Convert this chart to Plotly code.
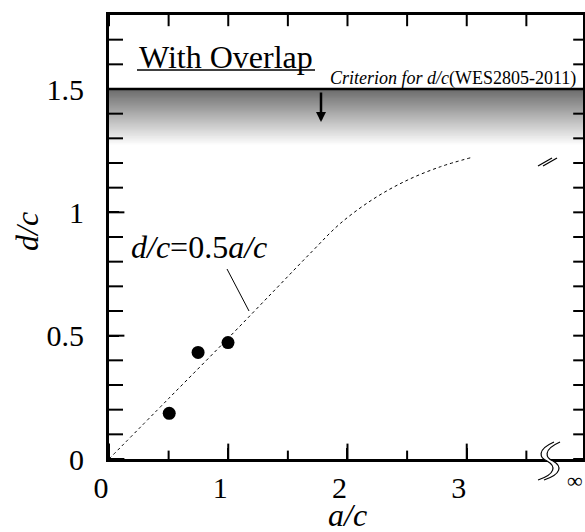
import plotly.graph_objects as go

# ---------------- data ----------------
points_ac = [0.505, 0.747, 0.998]
points_dc = [0.185, 0.432, 0.472]

curve_ac = [0.0, 0.5, 1.0, 1.4, 1.7, 1.94, 2.22, 2.50, 2.78, 3.03]
curve_dc = [0.0, 0.245, 0.49, 0.69, 0.84, 0.955, 1.055, 1.13, 1.185, 1.221]

x_tick_vals = [0, 1, 2, 3]
x_tick_text = ["0", "1", "2", "3"]
x_minor_vals = [0.5, 1.5, 2.5, 3.5]
y_tick_vals = [0, 0.5, 1, 1.5]
y_tick_text = ["0", "0.5", "1", "1.5"]
y_minor_vals = [0.1, 0.2, 0.3, 0.4, 0.6, 0.7, 0.8, 0.9, 1.1, 1.2, 1.3, 1.4, 1.6, 1.7]

criterion_dc = 1.5
x_range = [0, 3.975]
y_range = [0, 1.8]

# ---------------- layout geometry ----------------
W, H = 585, 532
L, R, T, B = 109, 2, 15, 73
PW, PH = W - L - R, H - T - B
FONT = "Liberation Serif"


def px(xp):
    return (xp - L) / PW


def py(yp):
    return (T + PH - yp) / PH


fig = go.Figure()

fig.add_trace(go.Scatter(
    x=curve_ac, y=curve_dc, mode="lines",
    line=dict(color="black", width=1, dash="3px,3px", shape="spline"),
    hoverinfo="skip", showlegend=False,
))
fig.add_trace(go.Scatter(
    x=points_ac, y=points_dc, mode="markers",
    marker=dict(color="black", size=13),
    showlegend=False,
))


# inside tick marks (clipped to the plot area so only the inner half shows)
def tick_trace(xs, ys, symbol, size):
    return go.Scatter(x=xs, y=ys, mode="markers", cliponaxis=True,
                      marker=dict(symbol=symbol, size=size, color="black",
                                  line=dict(width=2, color="black")),
                      hoverinfo="skip", showlegend=False)


for yv in y_range:
    fig.add_trace(tick_trace(x_tick_vals, [yv] * len(x_tick_vals), "line-ns", 22 if yv == y_range[0] else 16))
    fig.add_trace(tick_trace(x_minor_vals, [yv] * len(x_minor_vals), "line-ns", 12 if yv == y_range[0] else 16))
for xv in x_range:
    fig.add_trace(tick_trace([xv] * len(y_tick_vals), y_tick_vals, "line-ew", 22 if xv == x_range[0] else 14))
    fig.add_trace(tick_trace([xv] * len(y_minor_vals), y_minor_vals, "line-ew", 20 if xv == x_range[0] else 14))

shapes = []
# gradient band below the criterion line (stacked rectangles, light to dark)
g_bottom = 1.27
n_steps = 70
for i in range(n_steps):
    f = i / n_steps
    y0 = g_bottom + (criterion_dc - g_bottom) * f
    lvl = int(round(255 - (255 - 0x6a) * f))
    shapes.append(dict(type="rect", xref="paper", x0=0, x1=1, yref="y",
                       y0=y0, y1=criterion_dc, fillcolor=f"rgb({lvl},{lvl},{lvl})",
                       line=dict(width=0), layer="below"))
# criterion line
shapes.append(dict(type="line", xref="paper", x0=0, x1=1, yref="y",
                   y0=criterion_dc, y1=criterion_dc,
                   line=dict(color="black", width=2.5), layer="above"))
# underline of "With Overlap"
shapes.append(dict(type="line", xref="paper", yref="paper",
                   x0=px(137), x1=px(315), y0=py(70), y1=py(70),
                   line=dict(color="black", width=1.5)))
# leader line for label
shapes.append(dict(type="line", xref="paper", yref="paper",
                   x0=px(227), y0=py(269), x1=px(249), y1=py(311),
                   line=dict(color="black", width=1)))
# break marks on curve
for dx in (0, 5):
    shapes.append(dict(type="line", xref="paper", yref="paper",
                       x0=px(538 + dx), y0=py(166), x1=px(552 + dx), y1=py(158),
                       line=dict(color="black", width=1.2)))


def pth(pts):
    out = []
    for cmd, coords in pts:
        if coords:
            out.append(cmd + " " + " ".join(f"{px(a):.4f},{py(b):.4f}" for a, b in coords))
        else:
            out.append(cmd)
    return " ".join(out)


s1 = [(554, 442), (536, 450), (540, 458), (547, 461), (556, 466), (556, 474), (538, 480)]
s2 = [(a + 6, b) for a, b in s1]
mask = pth([("M", [s1[0]]), ("C", s1[1:4]), ("C", s1[4:7]), ("L", [s2[6]]),
            ("C", [s2[5], s2[4], s2[3]]), ("C", [s2[2], s2[1], s2[0]]), ("Z", [])])
shapes.append(dict(type="path", xref="paper", yref="paper", path=mask,
                   fillcolor="white", line=dict(width=0), layer="above"))
for s in (s1, s2):
    shapes.append(dict(type="path", xref="paper", yref="paper",
                       path=pth([("M", [s[0]]), ("C", s[1:4]), ("C", s[4:7])]),
                       line=dict(color="black", width=1.2), layer="above"))

annotations = [
    dict(text="With Overlap", xref="paper", yref="paper", x=px(226), y=py(57),
         showarrow=False, font=dict(family=FONT, size=32, color="black"),
         xanchor="center", yanchor="middle"),
    dict(text="<i>Criterion for d/c</i>(WES2805-2011)", xref="paper", yref="paper",
         x=px(578), y=py(78), showarrow=False,
         font=dict(family=FONT, size=18, color="black"),
         xanchor="right", yanchor="middle"),
    dict(text="<i>d/c</i>=0.5<i>a/c</i>", xref="paper", yref="paper",
         x=px(199), y=py(247), showarrow=False,
         font=dict(family=FONT, size=32, color="black"),
         xanchor="center", yanchor="middle"),
    dict(text="", x=px(321), y=py(122), xref="paper", yref="paper",
         ax=0, ay=-31, axref="pixel", ayref="pixel",
         showarrow=True, arrowhead=2, arrowsize=0.8, arrowwidth=2.5, arrowcolor="black"),
    dict(text="∞", xref="paper", yref="paper", x=px(575), y=py(480), showarrow=False,
         font=dict(family=FONT, size=22, color="black"),
         xanchor="center", yanchor="middle"),
    dict(text="<i>a/c</i>", xref="paper", yref="paper", x=px(347), y=py(515),
         showarrow=False, font=dict(family=FONT, size=32, color="black"),
         xanchor="center", yanchor="middle"),
    dict(text="<i>d/c</i>", xref="paper", yref="paper", x=px(27), y=py(232),
         showarrow=False, textangle=-90, font=dict(family=FONT, size=32, color="black"),
         xanchor="center", yanchor="middle"),
]

xaxis = dict(range=x_range, tickmode="array", tickvals=x_tick_vals, ticktext=x_tick_text,
             showline=True, linecolor="black", linewidth=3, mirror=True,
             ticks="inside", ticklen=11, tickwidth=2, tickcolor="black",
             showgrid=False, zeroline=False, ticklabelshift=-8,
             tickfont=dict(family=FONT, size=30, color="black"))
yaxis = dict(range=y_range, tickmode="array", tickvals=y_tick_vals, ticktext=y_tick_text,
             showline=True, linecolor="black", linewidth=3, mirror=True,
             ticks="inside", ticklen=10, tickwidth=2, tickcolor="black",
             showgrid=False, zeroline=False, ticklabelstandoff=16,
             tickfont=dict(family=FONT, size=30, color="black"))

fig.update_layout(template="none", width=W, height=H, margin=dict(l=L, r=R, t=T, b=B),
                  paper_bgcolor="white", plot_bgcolor="white",
                  xaxis=xaxis, yaxis=yaxis,
                  shapes=shapes, annotations=annotations, showlegend=False,
                  font=dict(family=FONT, color="black"))

fig.write_html("out.html")
